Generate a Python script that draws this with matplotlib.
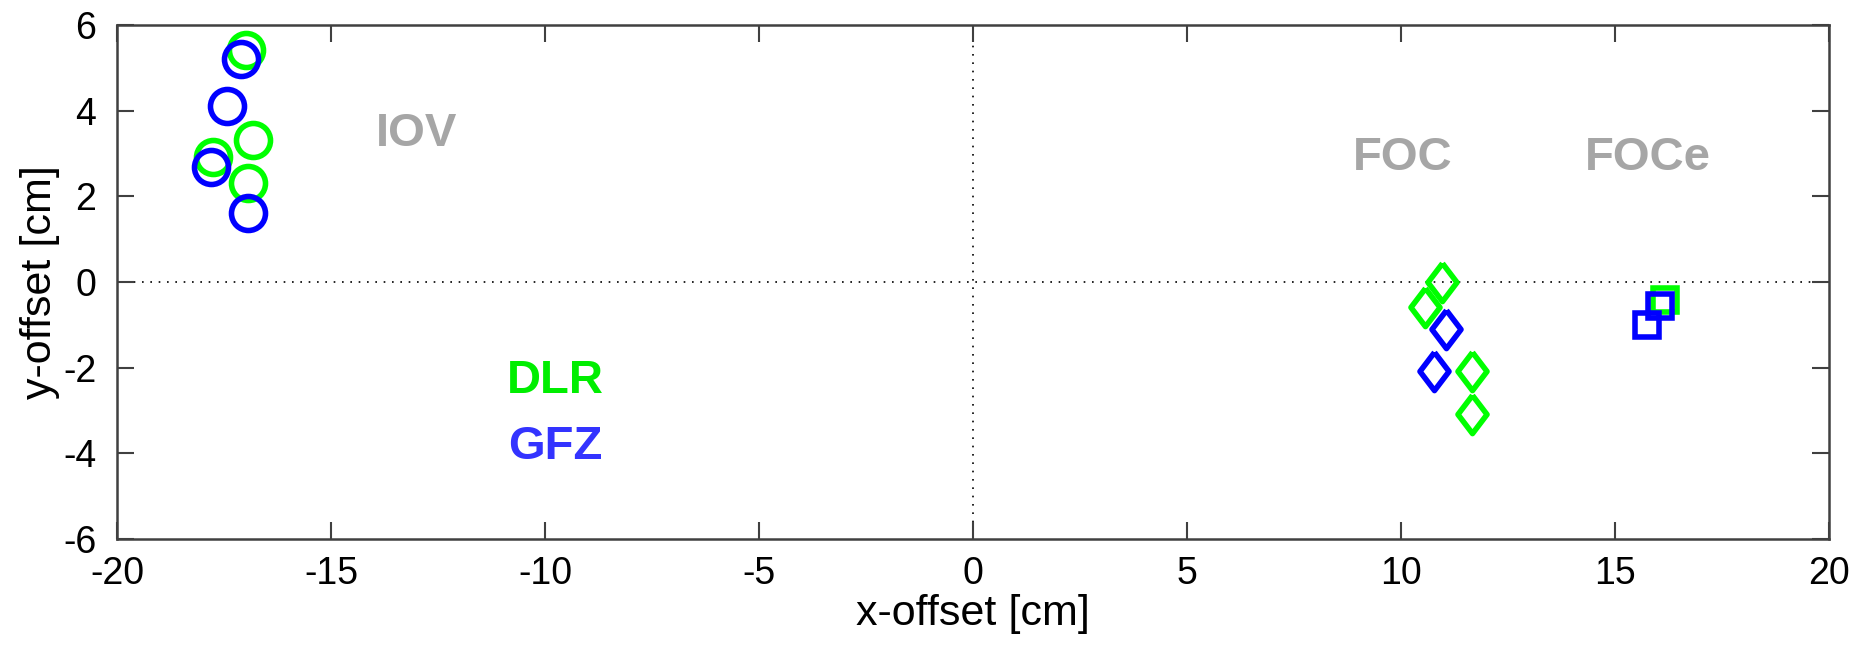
import matplotlib
matplotlib.use("Agg")
import matplotlib.pyplot as plt

plt.rcParams['font.family'] = ['Liberation Sans', 'DejaVu Sans']
plt.rcParams['axes.unicode_minus'] = False

# IOV (circles)
iov_dlr_x = [-16.99, -16.83, -16.93, -17.75]
iov_dlr_y = [5.42, 3.32, 2.32, 2.91]
iov_gfz_x = [-17.11, -17.42, -17.81, -16.93]
iov_gfz_y = [5.20, 4.11, 2.69, 1.60]
# FOC (diamonds)
foc_dlr_x = [10.95, 10.56, 11.65, 11.65]
foc_dlr_y = [0.00, -0.58, -2.07, -3.08]
foc_gfz_x = [11.05, 10.77]
foc_gfz_y = [-1.10, -2.07]
# FOCe (squares)
foce_dlr_x = [16.17]
foce_dlr_y = [-0.42]
foce_gfz_x = [16.05, 15.74]
foce_gfz_y = [-0.56, -1.00]

xticks = [-20, -15, -10, -5, 0, 5, 10, 15, 20]
yticks = [-6, -4, -2, 0, 2, 4, 6]

green = '#00FF00'
blue = '#0000FF'

fig = plt.figure(figsize=(18.55, 6.49), dpi=100)
ax = fig.add_axes([0.0631, 0.1695, 0.9229, 0.792])

ax.axhline(0, color='black', linestyle=(0, (1, 4)), linewidth=1.2, zorder=1)
ax.axvline(0, color='black', linestyle=(0, (1, 4)), linewidth=1.2, zorder=1)

diamond = [(0, 1), (0.76, 0), (0, -1), (-0.76, 0), (0, 1)]

ax.plot(iov_dlr_x, iov_dlr_y, 'o', ms=24.5, mfc='none', mec=green, mew=4, zorder=3)
ax.plot(iov_gfz_x, iov_gfz_y, 'o', ms=24.5, mfc='none', mec=blue, mew=4, zorder=4)
ax.plot(foc_dlr_x, foc_dlr_y, linestyle='none', marker=diamond, ms=27.5, mfc='none', mec=green, mew=4, zorder=3)
ax.plot(foc_gfz_x, foc_gfz_y, linestyle='none', marker=diamond, ms=27.5, mfc='none', mec=blue, mew=4, zorder=4)
ax.plot(foce_dlr_x, foce_dlr_y, 's', ms=17.5, mfc='none', mec=green, mew=4, zorder=3)
ax.plot(foce_gfz_x, foce_gfz_y, 's', ms=17.5, mfc='none', mec=blue, mew=4, zorder=4)

gray = '#A6A6A6'
ax.text(-13.0, 3.46, 'IOV', color=gray, fontsize=34, fontweight='bold', ha='center', va='center')
ax.text(10.05, 2.9, 'FOC', color=gray, fontsize=34, fontweight='bold', ha='center', va='center')
ax.text(15.77, 2.9, 'FOCe', color=gray, fontsize=34, fontweight='bold', ha='center', va='center')
ax.text(-9.77, -2.31, 'DLR', color='#00EE00', fontsize=34, fontweight='bold', ha='center', va='center')
ax.text(-9.77, -3.85, 'GFZ', color='#3333FF', fontsize=34, fontweight='bold', ha='center', va='center')

ax.set_xlim(-20, 20)
ax.set_ylim(-6, 6)
ax.set_xticks(xticks)
ax.set_yticks(yticks)
ax.tick_params(direction='in', length=12, width=1.5, labelsize=27, top=True, right=True,
               color='#404040')
ax.tick_params(axis='x', pad=12)
ax.tick_params(axis='y', pad=15)
for s in ax.spines.values():
    s.set_linewidth(1.8)
    s.set_color('#404040')
ax.set_xlabel('x-offset [cm]', fontsize=31, labelpad=2)
ax.set_ylabel('y-offset [cm]', fontsize=31, labelpad=2)

fig.savefig('out.png', dpi=100)
